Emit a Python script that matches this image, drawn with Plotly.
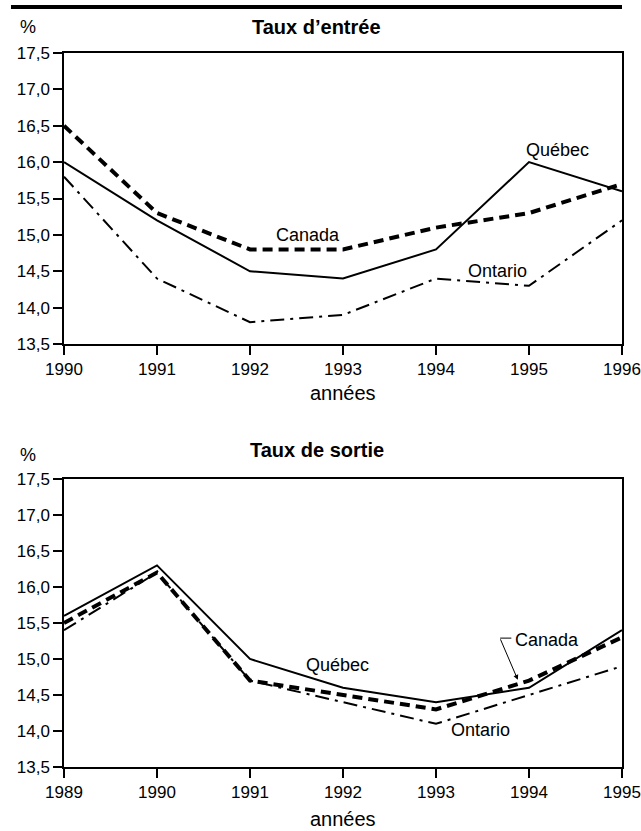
import plotly.graph_objects as go

# ---- data ----
years_entree = [1990, 1991, 1992, 1993, 1994, 1995, 1996]
canada_entree = [16.5, 15.3, 14.8, 14.8, 15.1, 15.3, 15.7]
quebec_entree = [16.0, 15.2, 14.5, 14.4, 14.8, 16.0, 15.6]
ontario_entree = [15.8, 14.4, 13.8, 13.9, 14.4, 14.3, 15.2]

years_sortie = [1989, 1990, 1991, 1992, 1993, 1994, 1995]
canada_sortie = [15.5, 16.2, 14.7, 14.5, 14.3, 14.7, 15.3]
quebec_sortie = [15.6, 16.3, 15.0, 14.6, 14.4, 14.6, 15.4]
ontario_sortie = [15.4, 16.2, 14.7, 14.4, 14.1, 14.5, 14.9]

y_ticks = [13.5, 14.0, 14.5, 15.0, 15.5, 16.0, 16.5, 17.0, 17.5]
y_ticktext = ["13,5", "14,0", "14,5", "15,0", "15,5", "16,0", "16,5", "17,0", "17,5"]

FONT = "Liberation Sans, Arial, Helvetica, sans-serif"

fig = go.Figure()

styles = {
    "Canada": dict(color="black", width=4, dash="10px,6px"),
    "Québec": dict(color="black", width=2),
    "Ontario": dict(color="black", width=2, dash="14px,6px,3px,6px"),
}

for name, ys in [("Québec", quebec_entree), ("Ontario", ontario_entree), ("Canada", canada_entree)]:
    fig.add_trace(go.Scatter(x=years_entree, y=ys, mode="lines", name=name,
                             line=styles[name], xaxis="x", yaxis="y", showlegend=False))
for name, ys in [("Québec", quebec_sortie), ("Ontario", ontario_sortie), ("Canada", canada_sortie)]:
    fig.add_trace(go.Scatter(x=years_sortie, y=ys, mode="lines", name=name,
                             line=styles[name], xaxis="x2", yaxis="y2", showlegend=False))

axis_common = dict(showline=True, linecolor="black", linewidth=1.5, mirror=True,
                   ticks="outside", ticklen=9, tickwidth=1.5, tickcolor="black",
                   showgrid=False, zeroline=False, automargin=False,
                   ticklabeloverflow="allow",
                   tickfont=dict(family=FONT, size=17, color="black"))

fig.update_layout(
    width=641, height=831,
    margin=dict(l=64, r=19, t=53, b=64),
    plot_bgcolor="white", paper_bgcolor="white",
    font=dict(family=FONT, color="black"),
    xaxis=dict(domain=[0, 1], anchor="y", range=[1990, 1996], tickvals=years_entree, **axis_common),
    yaxis=dict(domain=[0.5924, 1], anchor="x", range=[13.5, 17.5], tickvals=y_ticks,
               ticktext=y_ticktext, **axis_common),
    xaxis2=dict(domain=[0, 1], anchor="y2", range=[1989, 1995], tickvals=years_sortie, **axis_common),
    yaxis2=dict(domain=[0, 0.4034], anchor="x2", range=[13.5, 17.5], tickvals=y_ticks,
                ticktext=y_ticktext, **axis_common),
)

ann = []
def txt(text, x, y, xref="paper", yref="paper", size=18, bold=False):
    ann.append(dict(text=f"<b>{text}</b>" if bold else text, x=x, y=y, xref=xref, yref=yref,
                    showarrow=False, font=dict(family=FONT, size=size, color="black"),
                    xanchor="center", yanchor="middle"))

# titles and unit labels
txt("Taux d’entrée", 0.4534, 1.0364, size=20, bold=True)
txt("%", -0.0645, 1.0364, size=18)
txt("années", 0.5, 0.5238, size=20)
txt("Taux de sortie", 0.4534, 0.444, size=20, bold=True)
txt("%", -0.0645, 0.437, size=18)
txt("années", 0.5, -0.0725, size=20)

# series labels, chart 1
txt("Québec", 1995.31, 16.17, "x", "y")
txt("Canada", 1992.62, 15.0, "x", "y")
txt("Ontario", 1994.66, 14.5, "x", "y")
# series labels, chart 2
txt("Québec", 1991.94, 14.91, "x2", "y2")
txt("Ontario", 1993.48, 14.02, "x2", "y2")
txt("Canada", 1994.19, 15.27, "x2", "y2")

# callout arrow for Canada in chart 2
ann.append(dict(text="", x=1993.88, y=14.71, xref="x2", yref="y2", showarrow=True,
                ax=-18, ay=-42, arrowhead=2, arrowsize=1, arrowwidth=1, arrowcolor="black"))

fig.update_layout(annotations=ann)

shapes = [
    # top rule
    dict(type="line", xref="paper", yref="paper", x0=-0.095, x1=1.0, y0=1.0644, y1=1.0644,
         line=dict(color="black", width=4)),
    # callout elbow
    dict(type="line", xref="x2", yref="y2", x0=1993.69, x1=1993.81, y0=15.29, y1=15.29,
         line=dict(color="black", width=1)),
]
fig.update_layout(shapes=shapes)

# remove the browser's default 8px body margin so the figure fills the window exactly
fig.write_html("out.html", config={"displayModeBar": False},
               post_script="document.body.style.margin='0';document.body.style.overflow='hidden';")
